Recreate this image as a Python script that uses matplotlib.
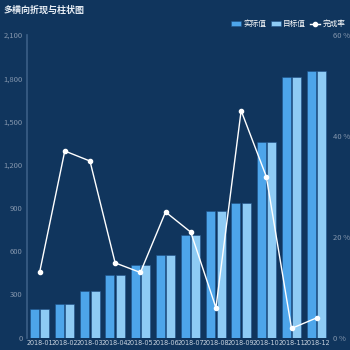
import matplotlib.pyplot as plt
import numpy as np

plt.rcParams['font.family'] = ['Noto Sans CJK SC', 'DejaVu Sans']

months = ["2018-01", "2018-02", "2018-03", "2018-04", "2018-05", "2018-06",
          "2018-07", "2018-08", "2018-09", "2018-10", "2018-11", "2018-12"]
actual = [200, 230, 320, 435, 500, 570, 715, 875, 935, 1360, 1808, 1848]
target = [200, 230, 320, 435, 500, 570, 715, 875, 935, 1360, 1808, 1848]
rate = [12.9, 37.0, 35.0, 14.8, 12.9, 24.9, 20.9, 5.9, 45.0, 31.9, 1.8, 3.9]

bg = "#10355d"
c_actual = "#4da5ea"
c_target = "#8ecbf4"
tick_col = "#8496ad"

fig = plt.figure(figsize=(3.5, 3.5), dpi=100, facecolor=bg)
ax = fig.add_axes([0.0771, 0.0357, 0.8638, 0.8643], facecolor=bg)
x = np.arange(len(months))

ax.bar(x - 0.206, actual, width=0.357, color=c_actual, edgecolor="#1d4f86", linewidth=0.4, label="实际值", zorder=2)
ax.bar(x + 0.206, target, width=0.357, color=c_target, edgecolor="#1d4f86", linewidth=0.4, label="目标值", zorder=2)
ax.set_xlim(-0.5, len(months) - 0.5)
ax.set_ylim(0, 2100)
ax.set_yticks(range(0, 2101, 300))
ax.set_yticklabels([f"{v:,}" for v in range(0, 2101, 300)])
ax.set_xticks(x)
ax.set_xticklabels(months, family="DejaVu Sans", stretch="condensed")
ax.tick_params(axis="y", colors=tick_col, labelsize=5.5, length=0, pad=3)
ax.tick_params(axis="x", colors="#c8d3df", labelsize=5.1, length=0, pad=1.5)
for s in ["top", "right", "bottom"]:
    ax.spines[s].set_visible(False)
ax.spines["left"].set_color("#3b5f86")
ax.spines["left"].set_linewidth(1.2)

ax2 = ax.twinx()
ax2.plot(x, rate, color="white", linewidth=1, marker="o", markersize=3, label="完成率", zorder=3)
ax2.set_ylim(0, 60)
ax2.set_yticks([0, 20, 40, 60])
ax2.set_yticklabels([f"{v} %" for v in [0, 20, 40, 60]])
ax2.tick_params(axis="y", colors=tick_col, labelsize=5.5, length=0, pad=3)
for s in ["top", "right", "bottom", "left"]:
    ax2.spines[s].set_visible(False)

fig.text(0.01, 0.985, "多横向折现与柱状图", color="#e8eef5", fontsize=6.5, fontweight="bold", va="top", ha="left")

h1, l1 = ax.get_legend_handles_labels()
h2, l2 = ax2.get_legend_handles_labels()
leg = fig.legend(h1 + h2, l1 + l2, loc="upper right", bbox_to_anchor=(1.0, 0.955), ncol=3,
                 frameon=False, fontsize=5.5, labelcolor="white", handlelength=1.3, handleheight=0.7,
                 handletextpad=0.3, columnspacing=0.6, borderaxespad=0.2)

fig.savefig("out.png", dpi=100, facecolor=bg)
